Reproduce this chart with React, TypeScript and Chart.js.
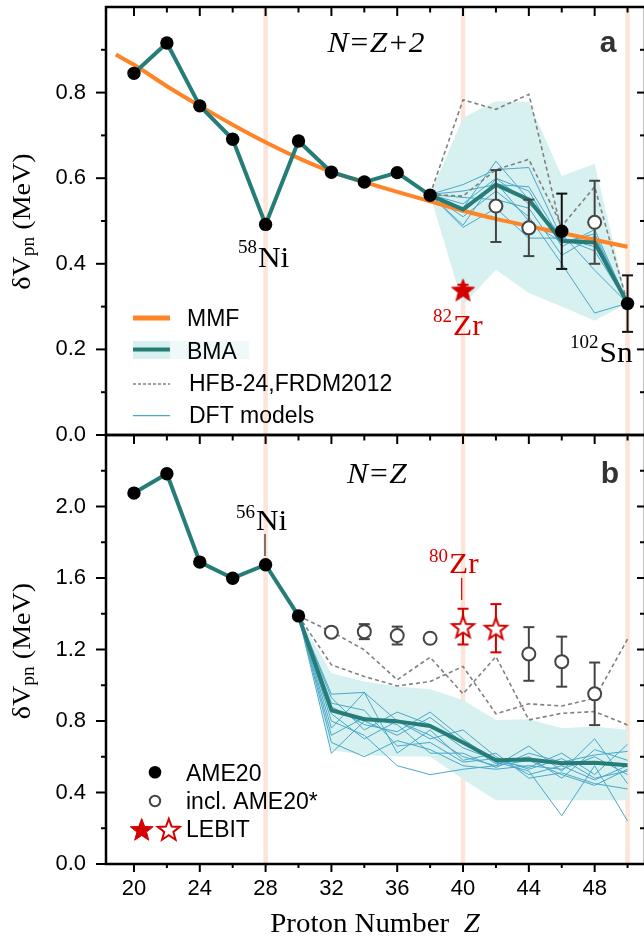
import React, { useEffect, useRef } from 'react';
import { Chart, registerables } from 'chart.js';

Chart.register(...registerables);

// ---------------- shared axis data ----------------
const Z_MIN = 18.3;
const Z_MAX = 51.06;
const Z_MAJOR = [20, 24, 28, 32, 36, 40, 44, 48];
const Z_MINOR = [22, 26, 30, 34, 38, 42, 46, 50];
const SHELL_Z = [28, 40, 50];

// ---------------- panel a : N = Z + 2 ----------------
const A_Y_MAX = 1.0;
const A_Y_MAJOR = [0, 0.2, 0.4, 0.6, 0.8];
const A_Y_MINOR = [0.1, 0.3, 0.5, 0.7, 0.9];

const A_AME_Z = [20, 22, 24, 26, 28, 30, 32, 34, 36, 38, 46, 50];
const A_AME_V = [0.845, 0.916, 0.769, 0.691, 0.492, 0.687, 0.614, 0.591, 0.613, 0.56, 0.476, 0.307];
const A_AME_E = [0, 0, 0, 0, 0, 0, 0, 0, 0, 0, 0.088, 0.066];

const A_OPEN_Z = [42, 44, 48];
const A_OPEN_V = [0.535, 0.484, 0.497];
const A_OPEN_E = [0.084, 0.066, 0.097];

const A_LEBIT_Z = [40];
const A_LEBIT_V = [0.339];
const A_LEBIT_E = [0.012];

const A_BMA_Z = [20, 22, 24, 26, 28, 30, 32, 34, 36, 38, 40, 42, 44, 46, 48, 50];
const A_BMA_V = [0.845, 0.916, 0.769, 0.691, 0.492, 0.687, 0.614, 0.591, 0.613, 0.56, 0.527, 0.585, 0.55, 0.453, 0.45, 0.308];

const A_MMF_Z = [18.9, 20, 22, 24, 26, 28, 30, 32, 34, 36, 38, 40, 42, 44, 46, 48, 50];
const A_MMF_V = [0.889, 0.865, 0.815, 0.769, 0.725, 0.684, 0.647, 0.615, 0.591, 0.568, 0.546, 0.524, 0.505, 0.488, 0.472, 0.456, 0.44];

const A_MOD_Z = [38, 40, 42, 44, 46, 48, 50];
const A_BAND_HI = [0.562, 0.741, 0.78, 0.778, 0.605, 0.634, 0.308];
const A_BAND_LO = [0.56, 0.304, 0.386, 0.332, 0.3, 0.267, 0.308];
const A_HFB = [0.562, 0.783, 0.761, 0.796, 0.475, 0.455, 0.308];
const A_FRDM = [0.562, 0.558, 0.62, 0.644, 0.488, 0.58, 0.308];
const A_DFT = [
  [0.562, 0.53, 0.64, 0.55, 0.45, 0.47, 0.308],
  [0.562, 0.585, 0.62, 0.625, 0.46, 0.43, 0.308],
  [0.562, 0.49, 0.6, 0.57, 0.44, 0.48, 0.308],
  [0.562, 0.555, 0.55, 0.53, 0.42, 0.465, 0.308],
  [0.562, 0.51, 0.57, 0.51, 0.4, 0.285, 0.308],
  [0.562, 0.485, 0.53, 0.46, 0.46, 0.44, 0.308],
  [0.562, 0.54, 0.6, 0.54, 0.47, 0.385, 0.308],
  [0.562, 0.52, 0.59, 0.5, 0.45, 0.45, 0.308],
  [0.562, 0.57, 0.585, 0.58, 0.455, 0.46, 0.308],
];

// ---------------- panel b : N = Z ----------------
const B_Y_MAX = 2.4;
const B_Y_MAJOR = [0, 0.4, 0.8, 1.2, 1.6, 2.0];
const B_Y_MINOR = [0.2, 0.6, 1.0, 1.4, 1.8, 2.2];

const B_AME_Z = [20, 22, 24, 26, 28, 30];
const B_AME_V = [2.075, 2.183, 1.689, 1.599, 1.674, 1.388];
const B_AME_E = [0, 0, 0, 0, 0, 0];

const B_OPEN_Z = [32, 34, 36, 38, 44, 46, 48];
const B_OPEN_V = [1.297, 1.3, 1.278, 1.263, 1.175, 1.132, 0.952];
const B_OPEN_E = [0.015, 0.042, 0.05, 0, 0.15, 0.14, 0.175];

const B_LEBIT_Z = [40, 42];
const B_LEBIT_V = [1.328, 1.319];
const B_LEBIT_E = [0.1, 0.135];

const B_BMA_Z = [20, 22, 24, 26, 28, 30, 32, 34, 36, 38, 40, 42, 44, 46, 48, 50];
const B_BMA_V = [2.075, 2.183, 1.689, 1.599, 1.674, 1.388, 0.86, 0.81, 0.798, 0.772, 0.68, 0.58, 0.584, 0.564, 0.566, 0.552];

const B_MOD_Z = [30, 32, 34, 36, 38, 40, 42, 44, 46, 48, 50];
const B_BAND_HI = [1.388, 1.067, 1.021, 0.993, 0.978, 0.918, 0.806, 0.81, 0.76, 0.769, 0.75];
const B_BAND_LO = [1.388, 0.638, 0.61, 0.601, 0.601, 0.474, 0.356, 0.356, 0.356, 0.356, 0.356];
const B_HFB = [1.388, 1.3, 1.198, 1.03, 1.157, 0.952, 1.16, 0.806, 0.843, 0.853, 0.778];
const B_FRDM = [1.388, 1.114, 1.049, 0.996, 1.021, 1.105, 0.84, 0.896, 0.884, 0.927, 1.258];
const B_DFT = [
  [1.388, 0.95, 0.96, 0.8, 0.72, 0.6, 0.55, 0.66, 0.52, 0.7, 0.45],
  [1.388, 0.93, 0.75, 0.85, 0.78, 0.65, 0.58, 0.54, 0.62, 0.5, 0.67],
  [1.388, 0.88, 0.78, 0.74, 0.85, 0.7, 0.57, 0.52, 0.27, 0.55, 0.24],
  [1.388, 0.84, 0.7, 0.8, 0.7, 0.75, 0.6, 0.5, 0.55, 0.47, 0.55],
  [1.388, 0.8, 0.72, 0.55, 0.5, 0.53, 0.55, 0.58, 0.5, 0.44, 0.53],
  [1.388, 0.76, 0.96, 0.62, 0.75, 0.58, 0.62, 0.48, 0.51, 0.45, 0.42],
  [1.388, 0.72, 0.82, 0.78, 0.62, 0.62, 0.54, 0.62, 0.57, 0.61, 0.63],
  [1.388, 0.68, 0.6, 0.69, 0.64, 0.55, 0.53, 0.55, 0.53, 0.6, 0.5],
  [1.388, 0.62, 0.8, 0.72, 0.82, 0.68, 0.56, 0.6, 0.48, 0.64, 0.58],
  [1.388, 0.9, 0.86, 0.66, 0.68, 0.57, 0.59, 0.53, 0.59, 0.48, 0.52],
];

// ---------------- styles ----------------
const SERIF = '"Liberation Serif", "Times New Roman", serif';
const SANS = '"Liberation Sans", Arial, sans-serif';
const TEAL = '#267d78';
const ORANGE = '#ff8427';
const BAND = '#d7f0f0';
const DFT_C = '#4aa8c8';
const DASH_C = '#808080';
const RED = '#d40000';
const PEACH = '#fde4d8';
const GREY = '#444444';

const mkPts = (xs: number[], ys: number[]) => xs.map((x, i) => ({ x, y: ys[i] }));

function starPath(g: CanvasRenderingContext2D, cx: number, cy: number, R: number, r: number) {
  g.beginPath();
  for (let i = 0; i < 10; i++) {
    const ang = -Math.PI / 2 + (i * Math.PI) / 5;
    const rad = i % 2 === 0 ? R : r;
    const px = cx + rad * Math.cos(ang);
    const py = cy + rad * Math.sin(ang);
    if (i === 0) g.moveTo(px, py);
    else g.lineTo(px, py);
  }
  g.closePath();
}

function drawStar(g: CanvasRenderingContext2D, cx: number, cy: number, R: number, fill: string, stroke: string, lw: number) {
  starPath(g, cx, cy + R * 0.1, R, R * 0.42);
  g.fillStyle = fill;
  g.fill();
  g.lineWidth = lw;
  g.lineJoin = 'miter';
  g.strokeStyle = stroke;
  g.stroke();
}

function starCanvas(R: number, fill: string, stroke: string, lw: number) {
  const s = Math.ceil(R * 2 + lw + 6);
  const c = document.createElement('canvas');
  c.width = s;
  c.height = s;
  const g = c.getContext('2d')!;
  drawStar(g, s / 2, s / 2, R, fill, stroke, lw);
  return c;
}

function T(ctx: CanvasRenderingContext2D, s: string, x: number, y: number, font: string, color = '#000', align: CanvasTextAlign = 'left', sx = 1) {
  ctx.save();
  ctx.font = font;
  ctx.fillStyle = color;
  ctx.textAlign = align;
  ctx.textBaseline = 'alphabetic';
  ctx.translate(x, y);
  ctx.scale(sx, 1);
  ctx.fillText(s, 0, 0);
  ctx.restore();
}

function L(ctx: CanvasRenderingContext2D, x1: number, y1: number, x2: number, y2: number, color: string, w: number, dash: number[] = []) {
  ctx.save();
  ctx.strokeStyle = color;
  ctx.lineWidth = w;
  ctx.setLineDash(dash);
  ctx.beginPath();
  ctx.moveTo(x1, y1);
  ctx.lineTo(x2, y2);
  ctx.stroke();
  ctx.restore();
}

function iso(ctx: CanvasRenderingContext2D, sup: string, main: string, x: number, ySup: number, yMain: number, color: string) {
  ctx.save();
  ctx.font = `19px ${SERIF}`;
  const w = ctx.measureText(sup).width;
  ctx.restore();
  T(ctx, sup, x, ySup, `19px ${SERIF}`, color);
  T(ctx, main, x + w + 1, yMain, `29px ${SERIF}`, color, 'left', 1.08);
}

function yTitle(ctx: CanvasRenderingContext2D, bx: number, cy: number) {
  const big = `26px ${SERIF}`;
  const small = `18px ${SERIF}`;
  ctx.save();
  ctx.font = big;
  const w1 = ctx.measureText('δV').width;
  const w3 = ctx.measureText(' (MeV)').width;
  ctx.font = small;
  const w2 = ctx.measureText('pn').width;
  const total = w1 + w2 + w3;
  ctx.translate(bx, cy);
  ctx.rotate(-Math.PI / 2);
  ctx.scale(1.08, 1);
  ctx.fillStyle = '#000';
  ctx.textBaseline = 'alphabetic';
  ctx.textAlign = 'left';
  let x0 = -total / 2;
  ctx.font = big;
  ctx.fillText('δV', x0, 0);
  x0 += w1;
  ctx.font = small;
  ctx.fillText('pn', x0, 4);
  x0 += w2;
  ctx.font = big;
  ctx.fillText(' (MeV)', x0, 0);
  ctx.restore();
}

type ErrSet = { z: number[]; v: number[]; e: number[]; color: string };

type PanelCfg = {
  id: string;
  top: number;
  height: number;
  padTop: number;
  padBottom: number;
  showX: boolean;
  yMax: number;
  yMajor: number[];
  yMinor: number[];
  datasets: any[];
  bmaIndex: number;
  errs: ErrSet[];
  topInward: boolean;
  bottomOut: boolean;
  decorate: (ctx: CanvasRenderingContext2D, oy: number) => void;
};

function buildDatasets(
  modZ: number[], hi: number[], lo: number[], dft: number[][], hfb: number[], frdm: number[],
  mmf: { x: number; y: number }[] | null, bmaZ: number[], bmaV: number[],
  openZ: number[], openV: number[], ameZ: number[], ameV: number[], lebZ: number[], lebV: number[],
  starImg: HTMLCanvasElement,
) {
  const ds: any[] = [];
  ds.push({ data: mkPts(modZ, hi), borderWidth: 0, borderColor: 'rgba(0,0,0,0)', backgroundColor: BAND, pointRadius: 0, fill: '+1', order: 10 });
  ds.push({ data: mkPts(modZ, lo), borderWidth: 0, borderColor: 'rgba(0,0,0,0)', pointRadius: 0, fill: false, order: 10 });
  dft.forEach((row) => ds.push({ data: mkPts(modZ, row), borderColor: DFT_C, borderWidth: 1, pointRadius: 0, fill: false, order: 9 }));
  ds.push({ data: mkPts(modZ, hfb), borderColor: DASH_C, borderWidth: 1.6, borderDash: [4, 3], pointRadius: 0, fill: false, order: 8 });
  ds.push({ data: mkPts(modZ, frdm), borderColor: DASH_C, borderWidth: 1.6, borderDash: [4, 3], pointRadius: 0, fill: false, order: 8 });
  if (mmf) ds.push({ data: mmf, borderColor: ORANGE, borderWidth: 4, pointRadius: 0, fill: false, cubicInterpolationMode: 'monotone', order: 7 });
  const bmaIndex = ds.length;
  ds.push({ data: mkPts(bmaZ, bmaV), borderColor: TEAL, borderWidth: 4, borderJoinStyle: 'round', pointRadius: 0, fill: false, order: 6 });
  ds.push({ data: mkPts(openZ, openV), showLine: false, pointRadius: 6.5, pointBackgroundColor: '#fff', pointBorderColor: GREY, pointBorderWidth: 2, order: 3 });
  ds.push({ data: mkPts(ameZ, ameV), showLine: false, pointRadius: 6.7, pointBackgroundColor: '#000', pointBorderColor: '#000', pointBorderWidth: 0, order: 2 });
  ds.push({ data: mkPts(lebZ, lebV), showLine: false, pointStyle: starImg, pointRadius: 12, order: 1 });
  return { ds, bmaIndex };
}

function makePlugin(cfg: PanelCfg) {
  return {
    id: 'deco' + cfg.id,
    beforeDatasetsDraw(chart: any) {
      const { ctx, chartArea: a, scales } = chart;
      ctx.save();
      ctx.beginPath();
      ctx.rect(a.left, a.top, a.right - a.left, a.bottom - a.top);
      ctx.clip();
      SHELL_Z.forEach((z) => {
        const px = scales.x.getPixelForValue(z);
        L(ctx, px, a.top, px, a.bottom, PEACH, 4.5);
      });
      ctx.restore();
    },
    afterDatasetDraw(chart: any, args: any) {
      if (args.index !== cfg.bmaIndex) return;
      const { ctx, scales } = chart;
      cfg.errs.forEach((s) => {
        s.z.forEach((z, i) => {
          if (!s.e[i]) return;
          const px = scales.x.getPixelForValue(z);
          const p1 = scales.y.getPixelForValue(s.v[i] + s.e[i]);
          const p2 = scales.y.getPixelForValue(s.v[i] - s.e[i]);
          L(ctx, px, p1, px, p2, s.color, 2);
          L(ctx, px - 5.5, p1, px + 5.5, p1, s.color, 2);
          L(ctx, px - 5.5, p2, px + 5.5, p2, s.color, 2);
        });
      });
    },
    afterDraw(chart: any) {
      const { ctx, chartArea: a, scales } = chart;
      const xs = scales.x;
      const ys = scales.y;
      ctx.save();
      ctx.lineCap = 'butt';
      ctx.strokeStyle = '#000';
      ctx.lineWidth = 2.5;
      ctx.strokeRect(a.left, a.top, a.right - a.left, a.bottom - a.top);
      cfg.yMajor.forEach((v) => {
        const py = ys.getPixelForValue(v);
        L(ctx, a.left - 10, py, a.left, py, '#000', 2);
        L(ctx, a.right - 8, py, a.right, py, '#000', 2);
      });
      cfg.yMinor.forEach((v) => {
        const py = ys.getPixelForValue(v);
        L(ctx, a.left - 5, py, a.left, py, '#000', 2);
        L(ctx, a.right - 5, py, a.right, py, '#000', 2);
      });
      const tickX = (vals: number[], len: number, out: number) => {
        vals.forEach((z) => {
          const px = xs.getPixelForValue(z);
          if (cfg.topInward) L(ctx, px, a.top, px, a.top + len, '#000', 2);
          if (cfg.bottomOut) L(ctx, px, a.bottom, px, a.bottom + out, '#000', 2);
        });
      };
      tickX(Z_MAJOR, 9, 8);
      tickX(Z_MINOR, 5.5, 4);
      ctx.restore();
      cfg.decorate(ctx, cfg.top);
    },
  };
}

function decorA(ctx: CanvasRenderingContext2D, oy: number) {
  T(ctx, 'N=Z+2', 376, 52 - oy, `italic 30px ${SERIF}`, '#000', 'center', 1.05);
  T(ctx, 'a', 608, 52 - oy, `bold 30px ${SANS}`, '#333', 'center');
  iso(ctx, '58', 'Ni', 238, 253 - oy, 267 - oy, '#000');
  iso(ctx, '82', 'Zr', 433, 322 - oy, 335 - oy, RED);
  iso(ctx, '102', 'Sn', 570, 348 - oy, 362 - oy, '#000');
  yTitle(ctx, 30, 221.5 - oy);
  const F = `23px ${SANS}`;
  L(ctx, 133, 318 - oy, 170, 318 - oy, ORANGE, 5);
  T(ctx, 'MMF', 187, 326 - oy, F);
  ctx.save();
  ctx.fillStyle = '#f0f9f9';
  ctx.fillRect(133, 341 - oy, 116, 18);
  ctx.fillStyle = BAND;
  ctx.fillRect(133, 341 - oy, 37, 18);
  ctx.restore();
  L(ctx, 133, 349.5 - oy, 170, 349.5 - oy, TEAL, 4);
  T(ctx, 'BMA', 187, 359 - oy, F);
  L(ctx, 133, 384 - oy, 170, 384 - oy, DASH_C, 1.5, [3, 2]);
  T(ctx, 'HFB-24,FRDM2012', 189, 390.5 - oy, F);
  L(ctx, 133, 415.7 - oy, 170, 415.7 - oy, DFT_C, 1.2);
  T(ctx, 'DFT models', 189, 423 - oy, F);
}

function decorB(ctx: CanvasRenderingContext2D, oy: number) {
  T(ctx, 'N=Z', 377, 483 - oy, `italic 30px ${SERIF}`, '#000', 'center', 1.05);
  T(ctx, 'b', 610, 483 - oy, `bold 30px ${SANS}`, '#333', 'center');
  iso(ctx, '56', 'Ni', 236, 518 - oy, 530 - oy, '#000');
  L(ctx, 265, 534 - oy, 265, 556 - oy, '#000', 1);
  iso(ctx, '80', 'Zr', 429, 562 - oy, 573 - oy, RED);
  L(ctx, 461.7, 578 - oy, 461.7, 600 - oy, RED, 1.2);
  yTitle(ctx, 30, 651 - oy);
  ctx.save();
  ctx.font = `27px ${SERIF}`;
  const w1 = ctx.measureText('Proton Number  ').width;
  ctx.font = `italic 27px ${SERIF}`;
  const w2 = ctx.measureText('Z').width;
  ctx.restore();
  const sx = 1.07;
  const start = 375 - ((w1 + w2) * sx) / 2;
  T(ctx, 'Proton Number  ', start, 932 - oy, `27px ${SERIF}`, '#000', 'left', sx);
  T(ctx, 'Z', start + w1 * sx, 932 - oy, `italic 27px ${SERIF}`, '#000', 'left', sx);
  const F = `23px ${SANS}`;
  ctx.save();
  ctx.fillStyle = '#000';
  ctx.beginPath();
  ctx.arc(155, 772.3 - oy, 6.3, 0, Math.PI * 2);
  ctx.fill();
  ctx.beginPath();
  ctx.arc(155, 801 - oy, 5.2, 0, Math.PI * 2);
  ctx.fillStyle = '#fff';
  ctx.fill();
  ctx.lineWidth = 2;
  ctx.strokeStyle = GREY;
  ctx.stroke();
  drawStar(ctx, 141.7, 829.3 - oy, 12, RED, RED, 1);
  drawStar(ctx, 168.8, 829.3 - oy, 11.5, '#fff', RED, 2);
  ctx.restore();
  T(ctx, 'AME20', 186, 780.7 - oy, F);
  T(ctx, 'incl. AME20*', 186, 809 - oy, F);
  T(ctx, 'LEBIT', 186, 837 - oy, F);
}

function buildConfig(cfg: PanelCfg) {
  return {
    type: 'line' as const,
    data: { datasets: cfg.datasets },
    options: {
      responsive: false,
      animation: false as const,
      devicePixelRatio: 1,
      events: [],
      layout: { autoPadding: false, padding: { top: cfg.padTop, bottom: cfg.padBottom, left: 0, right: 3 } },
      plugins: { legend: { display: false }, tooltip: { enabled: false }, title: { display: false } },
      scales: {
        x: {
          type: 'linear' as const,
          min: Z_MIN,
          max: Z_MAX,
          display: cfg.showX,
          grid: { display: false, drawTicks: false },
          border: { display: false },
          afterBuildTicks: (s: any) => {
            s.ticks = Z_MAJOR.map((v) => ({ value: v }));
          },
          afterFit: (s: any) => {
            s.height = cfg.showX ? 76 : 0;
            s.paddingLeft = 0;
            s.paddingRight = 0;
          },
          ticks: {
            padding: 12,
            color: '#000',
            maxRotation: 0,
            autoSkip: false,
            font: { family: SANS, size: 22 },
            callback: (v: any) => String(v),
          },
        },
        y: {
          type: 'linear' as const,
          min: 0,
          max: cfg.yMax,
          grid: { display: false, drawTicks: false },
          border: { display: false },
          afterBuildTicks: (s: any) => {
            s.ticks = cfg.yMajor.map((v) => ({ value: v }));
          },
          afterFit: (s: any) => {
            s.width = 106;
            s.paddingTop = 0;
            s.paddingBottom = 0;
          },
          ticks: {
            padding: 20,
            color: '#000',
            font: { family: SANS, size: 22 },
            callback: (v: any) => Number(v).toFixed(1),
          },
        },
      },
    },
    plugins: [makePlugin(cfg)],
  };
}

function makePanelA(): PanelCfg {
  const star = starCanvas(12, RED, RED, 1);
  const { ds, bmaIndex } = buildDatasets(
    A_MOD_Z, A_BAND_HI, A_BAND_LO, A_DFT, A_HFB, A_FRDM, mkPts(A_MMF_Z, A_MMF_V),
    A_BMA_Z, A_BMA_V, A_OPEN_Z, A_OPEN_V, A_AME_Z, A_AME_V, A_LEBIT_Z, A_LEBIT_V, star,
  );
  return {
    id: 'a', top: 0, height: 450, padTop: 7, padBottom: 15, showX: false,
    yMax: A_Y_MAX, yMajor: A_Y_MAJOR, yMinor: A_Y_MINOR,
    datasets: ds, bmaIndex,
    errs: [
      { z: A_AME_Z, v: A_AME_V, e: A_AME_E, color: '#111' },
      { z: A_OPEN_Z, v: A_OPEN_V, e: A_OPEN_E, color: GREY },
      { z: A_LEBIT_Z, v: A_LEBIT_V, e: A_LEBIT_E, color: RED },
    ],
    topInward: true, bottomOut: false, decorate: decorA,
  };
}

function makePanelB(): PanelCfg {
  const star = starCanvas(11.5, '#fff', RED, 2);
  const { ds, bmaIndex } = buildDatasets(
    B_MOD_Z, B_BAND_HI, B_BAND_LO, B_DFT, B_HFB, B_FRDM, null,
    B_BMA_Z, B_BMA_V, B_OPEN_Z, B_OPEN_V, B_AME_Z, B_AME_V, B_LEBIT_Z, B_LEBIT_V, star,
  );
  return {
    id: 'b', top: 425, height: 515, padTop: 10, padBottom: 0, showX: true,
    yMax: B_Y_MAX, yMajor: B_Y_MAJOR, yMinor: B_Y_MINOR,
    datasets: ds, bmaIndex,
    errs: [
      { z: B_AME_Z, v: B_AME_V, e: B_AME_E, color: '#111' },
      { z: B_OPEN_Z, v: B_OPEN_V, e: B_OPEN_E, color: GREY },
      { z: B_LEBIT_Z, v: B_LEBIT_V, e: B_LEBIT_E, color: RED },
    ],
    topInward: true, bottomOut: true, decorate: decorB,
  };
}

function Panel({ make }: { make: () => PanelCfg }) {
  const ref = useRef<HTMLCanvasElement>(null);
  const cfgRef = useRef<PanelCfg | null>(null);
  if (!cfgRef.current) cfgRef.current = make();
  const cfg = cfgRef.current;
  useEffect(() => {
    const chart = new Chart(ref.current as HTMLCanvasElement, buildConfig(make()) as any);
    return () => chart.destroy();
  }, []);
  return (
    <canvas
      ref={ref}
      width={648}
      height={cfg.height}
      style={{ position: 'absolute', left: 0, top: cfg.top, width: 648, height: cfg.height, display: 'block' }}
    />
  );
}

export default function App() {
  return (
    <div style={{ position: 'absolute', left: 0, top: 0, width: 644, height: 940, overflow: 'hidden', background: '#fff' }}>
      <Panel make={makePanelA} />
      <Panel make={makePanelB} />
    </div>
  );
}
